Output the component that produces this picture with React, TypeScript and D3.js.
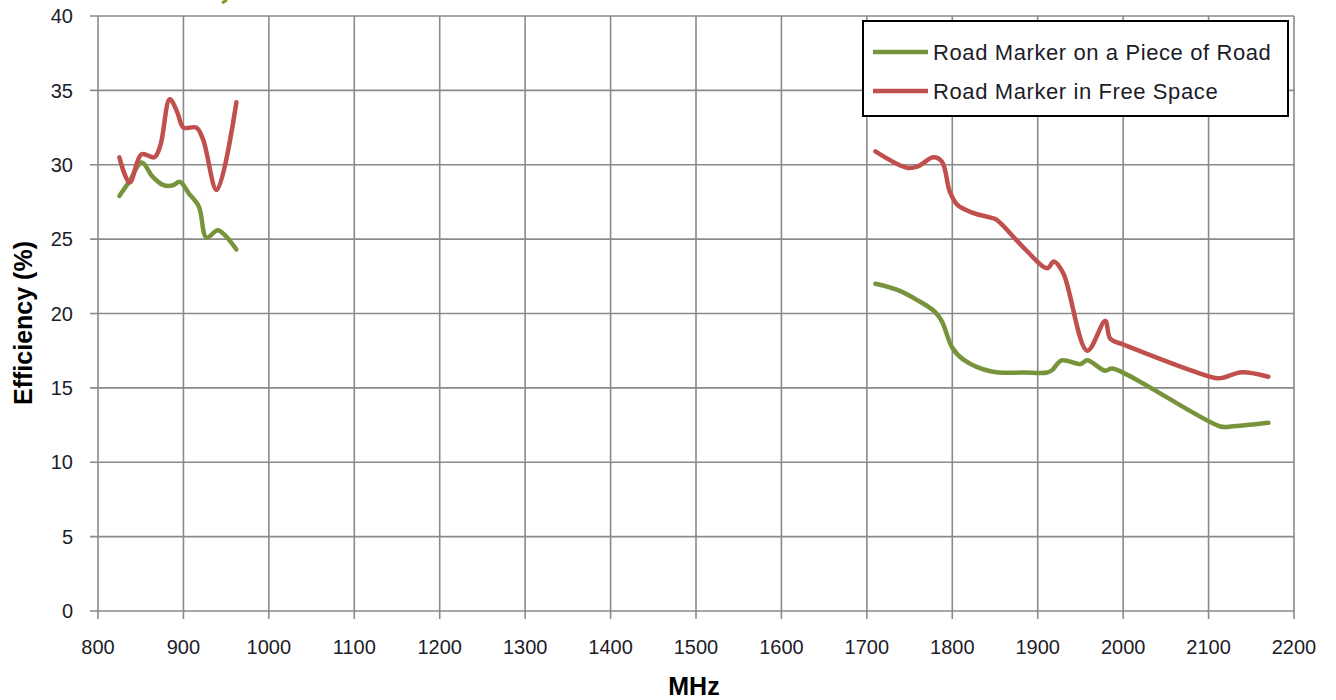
import React from "react";
import * as d3 from "d3";

// ---- data ----
const xTicks = [800, 900, 1000, 1100, 1200, 1300, 1400, 1500, 1600, 1700, 1800, 1900, 2000, 2100, 2200];
const yTicks = [0, 5, 10, 15, 20, 25, 30, 35, 40];

const seriesNames = ["Road Marker on a Piece of Road", "Road Marker in Free Space"];

// Road marker on a piece of road (green)
const roadLowFreq = [825, 837, 851, 864, 876, 887, 896, 906, 918, 927, 940, 948, 962];
const roadLowEff = [27.9, 28.9, 30.15, 29.2, 28.65, 28.6, 28.85, 28.1, 27.2, 25.1, 25.6, 25.3, 24.3];
const roadHighFreq = [1710, 1735, 1759, 1780, 1788, 1800, 1813, 1846, 1884, 1911, 1917, 1928, 1950, 1958, 1979, 1987, 2114, 2126, 2170];
const roadHighEff = [22.0, 21.6, 20.9, 20.1, 19.45, 17.7, 16.9, 16.1, 16.03, 16.03, 16.2, 16.85, 16.6, 16.85, 16.15, 16.3, 12.4, 12.4, 12.65];

// Road marker in free space (red)
const freeLowFreq = [825, 837, 851, 866, 873, 884, 893, 900, 915, 923, 939, 962];
const freeLowEff = [30.5, 28.8, 30.7, 30.5, 31.3, 34.4, 33.5, 32.5, 32.5, 31.7, 28.3, 34.2];
const freeHighFreq = [1710, 1747, 1760, 1778, 1788, 1797, 1806, 1825, 1845, 1852, 1884, 1911, 1919, 1930, 1958, 1979, 1985, 2001, 2110, 2118, 2139, 2170];
const freeHighEff = [30.9, 29.8, 29.9, 30.5, 30.2, 28.2, 27.3, 26.75, 26.45, 26.3, 24.4, 23.05, 23.5, 22.7, 17.5, 19.5, 18.3, 17.9, 15.65, 15.7, 16.05, 15.75];

const GREEN = "#77933C";
const RED = "#C0504D";

export default function App() {
  const W = 1336;
  const H = 700;
  const x = d3.scaleLinear().domain([800, 2200]).range([98, 1294]);
  const y = d3.scaleLinear().domain([0, 40]).range([611, 16]);

  const line = d3
    .line<[number, number]>()
    .x((d) => x(d[0]))
    .y((d) => y(d[1]))
    .curve(d3.curveCatmullRom.alpha(0.5));

  const zip = (a: number[], b: number[]) => a.map((v, i) => [v, b[i]] as [number, number]);

  const paths = [
    { d: line(zip(roadLowFreq, roadLowEff)), c: GREEN },
    { d: line(zip(roadHighFreq, roadHighEff)), c: GREEN },
    { d: line(zip(freeLowFreq, freeLowEff)), c: RED },
    { d: line(zip(freeHighFreq, freeHighEff)), c: RED },
  ];

  const gridColor = "#8a8a8a";
  const font = "'Liberation Sans', Arial, sans-serif";

  return (
    <svg
      width={W}
      height={H}
      style={{ position: "absolute", left: 0, top: 0, background: "#fff" }}
      fontFamily={font}
    >
      <rect x={0} y={0} width={W} height={H} fill="#fff" />
      {/* fragment of a cropped title glyph at the top edge */}
      <path d="M222,3 L227,0" stroke="#7AA222" strokeWidth={3} />
      {/* gridlines */}
      {yTicks.map((t) => (
        <line key={"gy" + t} x1={90} x2={x(2200)} y1={y(t)} y2={y(t)} stroke={gridColor} strokeWidth={1.6} />
      ))}
      {xTicks.map((t) => (
        <line key={"gx" + t} x1={x(t)} x2={x(t)} y1={y(40)} y2={y(0) + 8} stroke={gridColor} strokeWidth={1.6} />
      ))}
      {/* tick labels */}
      {yTicks.map((t) => (
        <text key={"ly" + t} x={73} y={y(t)} dy="0.36em" textAnchor="end" fontSize={20} fill="#1c1c28">
          {t}
        </text>
      ))}
      {xTicks.map((t) => (
        <text key={"lx" + t} x={x(t)} y={654} textAnchor="middle" fontSize={20} fill="#1c1c28">
          {t}
        </text>
      ))}
      {/* axis titles */}
      <text x={694} y={695} textAnchor="middle" fontWeight="bold" fontSize={25} fill="#000">
        MHz
      </text>
      <text
        transform={`translate(32, 323) rotate(-90)`}
        textAnchor="middle"
        fontWeight="bold"
        fontSize={25}
        fill="#000"
      >
        Efficiency (%)
      </text>
      {/* series */}
      {paths.map((p, i) => (
        <path key={i} d={p.d || ""} fill="none" stroke={p.c} strokeWidth={4.5} strokeLinejoin="round" strokeLinecap="round" />
      ))}
      {/* legend */}
      <rect x={863} y={21} width={425} height={95} fill="#fff" stroke="#000" strokeWidth={2} />
      {seriesNames.map((n, i) => (
        <g key={n}>
          <line x1={873} x2={928} y1={52 + i * 39} y2={52 + i * 39} stroke={i === 0 ? GREEN : RED} strokeWidth={4.5} />
          <text x={933} y={60 + i * 39} fontSize={22} letterSpacing={0.6} fill="#1c1c28">
            {n}
          </text>
        </g>
      ))}
    </svg>
  );
}
